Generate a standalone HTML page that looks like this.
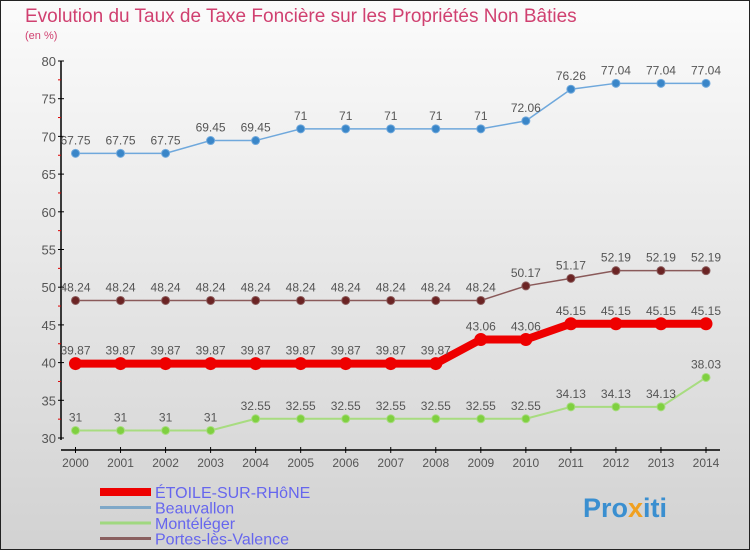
<!DOCTYPE html>
<html><head><meta charset="utf-8"><style>
body{margin:0}
svg{display:block;font-family:"Liberation Sans",sans-serif}
</style></head><body>
<svg id="c" width="750" height="550">
<defs><linearGradient id="bg" x1="0" y1="0" x2="0" y2="1"><stop offset="0" stop-color="#fbfbfb"/><stop offset="1" stop-color="#d2d2d2"/></linearGradient></defs>
<rect x="0.5" y="0.5" width="749" height="549" fill="url(#bg)" stroke="#222"/>
<text x="25" y="22" font-size="19" fill="#d04070">Evolution du Taux de Taxe Foncière sur les Propriétés Non Bâties</text>
<text x="25" y="39" font-size="11" fill="#d04070">(en %)</text>
<g id="axes"></g><g id="series"></g><g id="legend"></g>
<text x="583" y="517" font-size="27" font-weight="bold" fill="#3a8fd0">Pro<tspan fill="#f0a020">x</tspan>iti</text>
</svg>
<script>
const years=[2000,2001,2002,2003,2004,2005,2006,2007,2008,2009,2010,2011,2012,2013,2014];
const yTicks=[30,35,40,45,50,55,60,65,70,75,80];
const etoile=[39.87,39.87,39.87,39.87,39.87,39.87,39.87,39.87,39.87,43.06,43.06,45.15,45.15,45.15,45.15];
const beauvallon=[67.75,67.75,67.75,69.45,69.45,71,71,71,71,71,72.06,76.26,77.04,77.04,77.04];
const monteleger=[31,31,31,31,32.55,32.55,32.55,32.55,32.55,32.55,32.55,34.13,34.13,34.13,38.03];
const portes=[48.24,48.24,48.24,48.24,48.24,48.24,48.24,48.24,48.24,48.24,50.17,51.17,52.19,52.19,52.19];
const seriesNames=["ÉTOILE-SUR-RHôNE","Beauvallon","Montéléger","Portes-lès-Valence"];
const NS="http://www.w3.org/2000/svg";
const X=i=>75.5+i*(706-75.5)/(years.length-1);
const Y=v=>61+(80-v)*(438-61)/50;
function mk(t,a,p){const e=document.createElementNS(NS,t);for(const k in a)e.setAttribute(k,a[k]);p.appendChild(e);return e;}
const ax=document.getElementById('axes');
let l=mk('line',{x1:61,y1:61,x2:61,y2:440,stroke:'#000','stroke-width':1.5},ax);


l=mk('line',{x1:61,y1:450,x2:720,y2:450,stroke:'#000','stroke-width':1.5},ax);


yTicks.forEach((v,i)=>{
 mk('line',{x1:58,y1:Y(v),x2:64,y2:Y(v),stroke:'#000'},ax);
 if(i<yTicks.length-1)mk('line',{x1:58,y1:Y(v+2.5),x2:61,y2:Y(v+2.5),stroke:'#d00'},ax);
 const t=mk('text',{x:56,y:Y(v)+5,'text-anchor':'end','font-size':13,fill:'#555'},ax);t.textContent=v;
 
 
});
years.forEach((y,i)=>{
 mk('line',{x1:X(i),y1:447,x2:X(i),y2:453,stroke:'#000'},ax);
 const t=mk('text',{x:X(i),y:467,'text-anchor':'middle','font-size':12,fill:'#555'},ax);t.textContent=y;
 
 
});
const sg=document.getElementById('series');
function draw(vals,color,dot,w,r,name){
 const g=mk('g',{},sg);
 
 
 mk('polyline',{points:vals.map((v,i)=>X(i)+','+Y(v)).join(' '),fill:'none',stroke:color,'stroke-width':w},g);
 vals.forEach((v,i)=>{
  const c=mk('circle',{cx:X(i),cy:Y(v),r:r,fill:dot,stroke:color,'stroke-width':1},g);
  
  
  const t=mk('text',{x:X(i),y:Y(v)-9,'text-anchor':'middle','font-size':12,fill:'#555'},g);
  t.textContent=String(v);
  
  
 });
}
draw(beauvallon,'#6fa8dc','#3a86c8',1.5,4,'series-beauvallon');
draw(portes,'#8a5a5a','#6b2424',1.5,4,'series-portes');
draw(monteleger,'#a8dc80','#7fd040',2,4,'series-monteleger');
draw(etoile,'#ee0000','#ee0000',8,6,'series-etoile');
const lg=document.getElementById('legend');
const lc=['#ee0000','#7fa8c8','#a0d880','#8a6060'],lw=[8,3,3,3];
seriesNames.forEach((n,i)=>{
 const y=492+i*15.5;
 const g=mk('g',{},lg);
 
 
 mk('line',{x1:100,y1:y,x2:151,y2:y,stroke:lc[i],'stroke-width':lw[i]},g);
 const t=mk('text',{x:155,y:y+6,'font-size':16,fill:'#6666ee'},g);t.textContent=n;
});
</script>
</body></html>
